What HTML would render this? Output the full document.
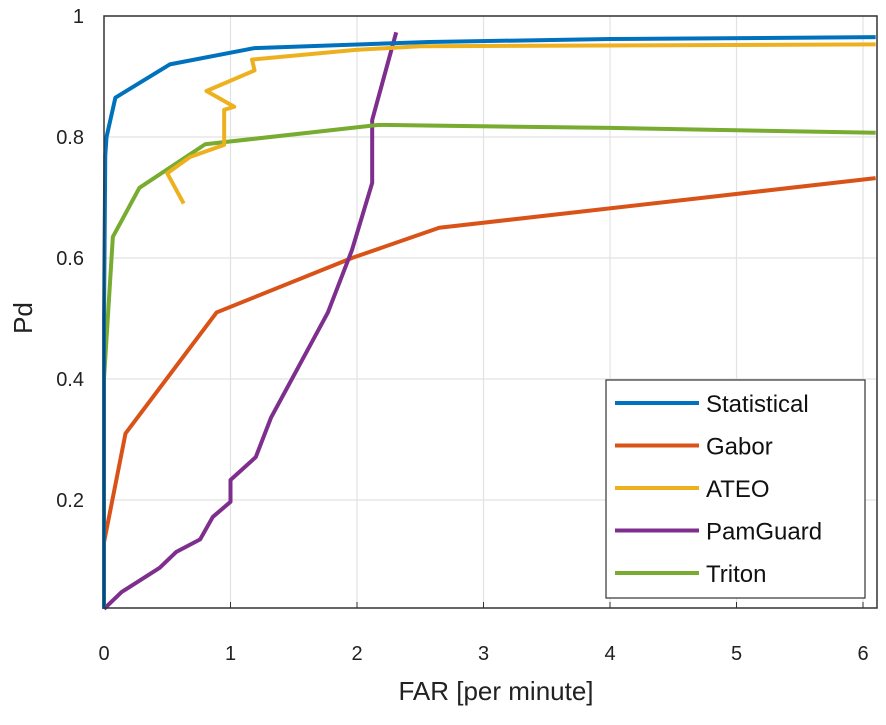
<!DOCTYPE html>
<html><head><meta charset="utf-8"><style>
body{margin:0;background:#fff;}
svg text{font-family:"Liberation Sans",sans-serif;}
</style></head><body>
<svg id="chart" width="886" height="720" xmlns="http://www.w3.org/2000/svg">
<g id="grid"></g>
<g id="series"></g>
<g id="axes"></g>
<g id="legend"></g>
<text x="496" y="700" font-size="26" text-anchor="middle" fill="#222">FAR [per minute]</text>
<text x="0" y="0" font-size="26" text-anchor="middle" fill="#222" transform="translate(32,318) rotate(-90)">Pd</text>
</svg>
<script>
const xTicks=[0,1,2,3,4,5,6];
const yTicks=[0.2,0.4,0.6,0.8,1];
const yTickLabels=["0.2","0.4","0.6","0.8","1"];
const seriesNames=["Statistical","Gabor","ATEO","PamGuard","Triton"];
const seriesColors=["#0072BD","#D95319","#EDB120","#7E2F8E","#77AC30"];
const statX=[0,0,0.01,0.02,0.09,0.52,1.19,2.57,4,6.1];
const statY=[0.02,0.5,0.77,0.80,0.865,0.92,0.947,0.957,0.962,0.965];
const gaborX=[0,0.17,0.89,1.96,2.65,6.1];
const gaborY=[0.13,0.31,0.51,0.60,0.65,0.732];
const ateoX=[0.63,0.5,0.68,0.95,0.95,1.03,0.81,1.19,1.17,1.99,2.5,6.1];
const ateoY=[0.69,0.74,0.767,0.787,0.845,0.85,0.876,0.91,0.928,0.944,0.95,0.953];
const pamX=[0,0.14,0.44,0.57,0.76,0.86,1.0,1.0,1.2,1.32,1.77,1.96,2.12,2.12,2.31];
const pamY=[0.02,0.048,0.088,0.114,0.135,0.172,0.197,0.233,0.271,0.336,0.51,0.613,0.724,0.828,0.973];
const tritX=[0,0,0.07,0.28,0.8,2.17,4,6.1];
const tritY=[0.02,0.4,0.635,0.716,0.788,0.82,0.815,0.807];

const L=104,R=877,T=16,B=608,XMAX=6.1,YMIN=0.0215;
const sx=v=>L+v*126.5;
const sy=v=>T+(1-v)*(B-T)/(1-YMIN);
const NS="http://www.w3.org/2000/svg";
function mk(tag,parent,attrs){const e=document.createElementNS(NS,tag);for(const k in attrs)e.setAttribute(k,attrs[k]);parent.appendChild(e);return e;}
const grid=document.getElementById('grid'),axes=document.getElementById('axes'),ser=document.getElementById('series'),leg=document.getElementById('legend');
mk('rect',grid,{x:L,y:T,width:R-L,height:B-T,fill:'#fff'});
xTicks.forEach(t=>{
  const x=sx(t);
  if(t>0){const g=mk('line',grid,{x1:x,x2:x,y1:T,y2:B,stroke:'#e2e2e2','stroke-width':1.2});
  
  }
  const tk=mk('line',axes,{x1:x,x2:x,y1:B,y2:B-6,stroke:'#333'});
  
  
  const lb=mk('text',axes,{x:x,y:660,'font-size':20,'text-anchor':'middle',fill:'#222'});lb.textContent=t;
  
  
});
yTicks.forEach((t,i)=>{
  const y=sy(t);
  const g=mk('line',grid,{x1:L,x2:R,y1:y,y2:y,stroke:'#e2e2e2','stroke-width':1.2});
  
  
  const lb=mk('text',axes,{x:84,y:y+7,'font-size':20,'text-anchor':'end',fill:'#222'});lb.textContent=yTickLabels[i];
  
  
});
const frame=mk('rect',axes,{x:L,y:T,width:R-L,height:B-T,fill:'none',stroke:'#333','stroke-width':1.5});


const data=[[statX,statY],[gaborX,gaborY],[ateoX,ateoY],[pamX,pamY],[tritX,tritY]];
const order=[1,3,4,2,0];
order.forEach(i=>{
  const [xs,ys]=data[i];
  const p=mk('polyline',ser,{points:xs.map((x,j)=>sx(x)+','+sy(ys[j])).join(' '),fill:'none',stroke:seriesColors[i],'stroke-width':4,'stroke-linejoin':'round'});
  
  
});
mk('rect',leg,{x:606,y:380,width:259,height:218,fill:'#fff',stroke:'#333','stroke-width':1.2});
seriesNames.forEach((n,i)=>{
  const y=403+i*42.5;
  const l=mk('line',leg,{x1:615,x2:699,y1:y,y2:y,stroke:seriesColors[i],'stroke-width':4});
  
  
  const t=mk('text',leg,{x:706,y:y+9,'font-size':24,fill:'#111'});t.textContent=n;
  
  
});
</script>
</body></html>
